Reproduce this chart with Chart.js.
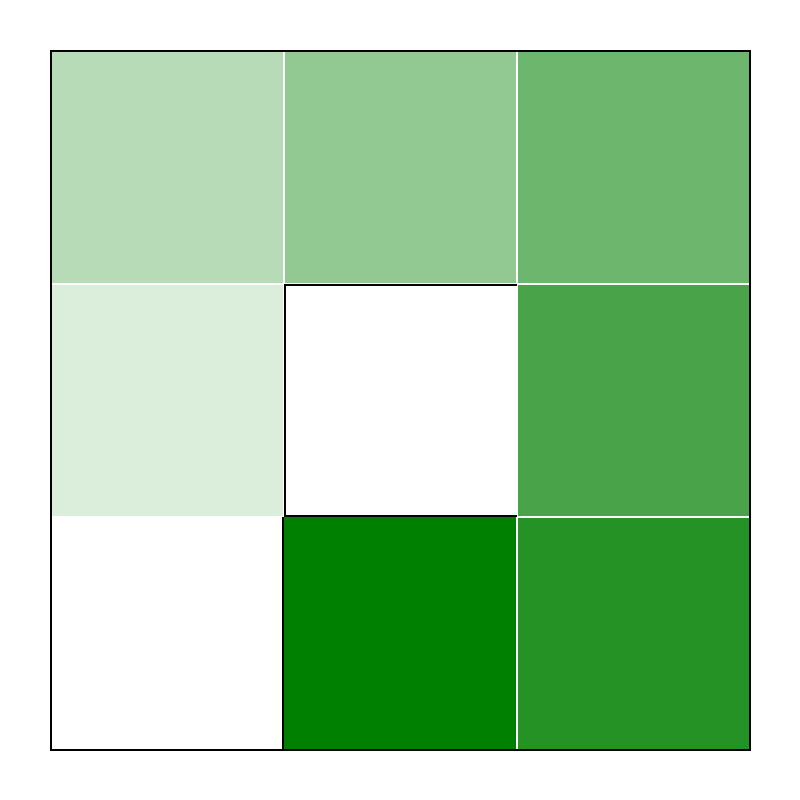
<!DOCTYPE html>
<html>
<head>
<meta charset="utf-8">
<script src="https://cdn.jsdelivr.net/npm/chart.js@4.4.1/dist/chart.umd.min.js"></script>
<style>
  html, body { margin: 0; padding: 0; background: #ffffff; }
  #wrap { width: 800px; height: 800px; }
</style>
</head>
<body>
<div id="wrap"><canvas id="c" width="800" height="800"></canvas></div>
<script>
// Heatmap data (rows listed bottom to top, columns left to right)
const columns = ['0', '1', '2'];
const rowBottom = [0, 7, 6];
const rowMiddle = [1, 0, 5];
const rowTop = [2, 3, 4];
const maxValue = 7;

// Colour scale: white -> green (#008000)
function cellColor(v) {
  const t = v / maxValue;
  const r = Math.round(255 * (1 - t));
  const g = Math.round(255 - 127 * t);
  const b = Math.round(255 * (1 - t));
  return `rgb(${r},${g},${b})`;
}

// Outline styling of particular cells, as in the reference (key: row,col)
const specialEdges = {
  '0,0': { top: 0, right: 2, bottom: 0, left: 0 },
  '1,1': { top: 2, right: 0, bottom: 2, left: 2 },
  '0,1': { top: 0, right: 1, bottom: 1, left: 0 }
};

const rows = [rowBottom, rowMiddle, rowTop];

const datasets = rows.map((vals, ri) => ({
  label: 'row ' + ri,
  data: vals.map(() => 1),
  backgroundColor: vals.map(v => cellColor(v)),
  borderColor: vals.map(v => v === 0 ? '#000000' : '#ffffff'),
  borderWidth: vals.map((v, ci) => specialEdges[ri + ',' + ci] || (v === 0 ? 0 : 1)),
  borderSkipped: false,
  inflateAmount: 0,
  barPercentage: 1,
  categoryPercentage: 1,
  stack: 's'
}));

const frame = {
  id: 'frame',
  afterDatasetsDraw(chart) {
    const { ctx, chartArea: a } = chart;
    ctx.save();
    ctx.strokeStyle = '#000000';
    ctx.lineWidth = 2;
    ctx.strokeRect(a.left, a.top, a.right - a.left, a.bottom - a.top);
    ctx.restore();
  }
};

new Chart(document.getElementById('c'), {
  type: 'bar',
  data: { labels: columns, datasets },
  options: {
    responsive: false,
    animation: false,
    events: [],
    layout: { padding: { left: 51, top: 51, right: 50, bottom: 50 } },
    plugins: { legend: { display: false }, tooltip: { enabled: false } },
    scales: {
      x: { display: false, stacked: true },
      y: { display: false, stacked: true, min: 0, max: 3 }
    }
  },
  plugins: [frame]
});
</script>
</body>
</html>
